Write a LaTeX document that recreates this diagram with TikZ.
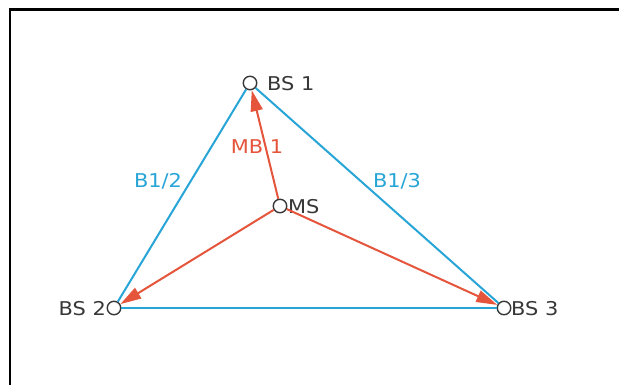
\documentclass[tikz,border=0pt]{standalone}
\usepackage{fontspec}
\setmainfont{DejaVu Sans}[FakeStretch=1.1]
\usetikzlibrary{arrows.meta}
\definecolor{lblue}{RGB}{40,165,215}
\definecolor{lred}{RGB}{228,85,60}
\definecolor{tgray}{RGB}{55,55,55}
\tikzset{
  station/.style={circle,draw=tgray,line width=1.4pt,minimum size=13.5pt,inner sep=0pt},
  lbl/.style={font=\fontsize{19}{19}\selectfont,text=tgray,inner sep=0pt},
  link/.style={draw=lblue,line width=2pt},
  sig/.style={draw=lred,line width=2pt,-{Triangle[length=21pt,width=12pt]},fill=lred},
}
\begin{document}
\begin{tikzpicture}[x=1pt,y=-1pt]
\useasboundingbox (0,0) rectangle (619,385);
\fill[white] (0,0) rectangle (619,385);
\draw[line width=2.5pt,black] (10,385) -- (10,9.5) -- (619,9.5);
\node[station] (bs1) at (250,83) {};
\node[station] (bs2) at (114,308) {};
\node[station] (bs3) at (504,308) {};
\node[station] (ms) at (280,206) {};
\node[lbl,anchor=west] (t1) at (267,84) {BS 1};
\node[lbl,anchor=east] (t2) at (106,309) {BS 2};
\node[lbl,anchor=west] (t3) at (511,309) {BS 3};
\node[lbl,anchor=west] (tm) at (288,207) {MS};
\draw[link] (bs1) -- (bs2);
\draw[link] (bs1) -- (bs3);
\draw[link] (bs2) -- (bs3);
\draw[sig] (ms) -- (bs1);
\draw[sig] (ms) -- (bs2);
\draw[sig] (ms) -- (bs3);
\node[lbl,text=lred] (mb) at (257,147) {MB 1};
\node[lbl,text=lblue] (b12) at (158,181) {B1/2};
\node[lbl,text=lblue] (b13) at (397,181) {B1/3};
\end{tikzpicture}
\end{document}
